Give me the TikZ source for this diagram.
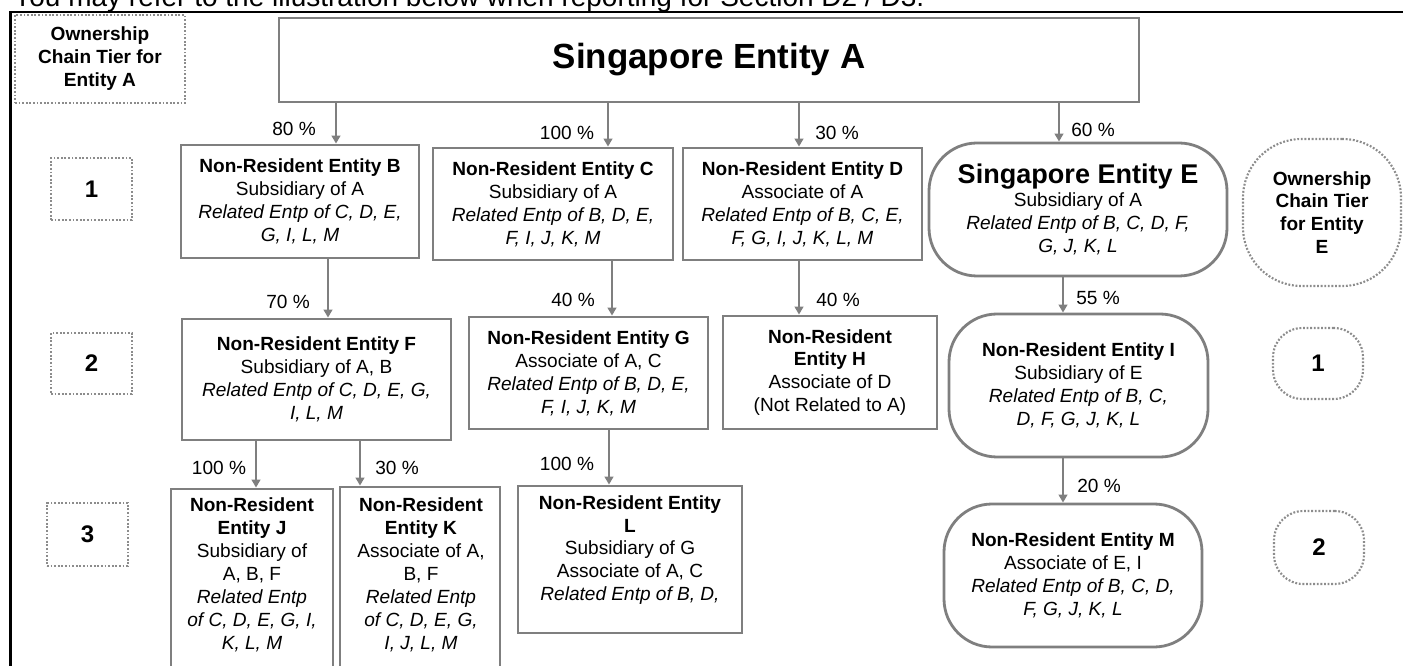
\documentclass[tikz,border=0pt]{standalone}
\usepackage{fontspec}
\setmainfont{Liberation Sans}
\usetikzlibrary{arrows.meta}
\definecolor{bgray}{RGB}{127,127,127}
\definecolor{dgray}{RGB}{140,140,140}
\newcommand\fs{\fontsize{14.3}{17.2}\selectfont}
\begin{document}
\begin{tikzpicture}[x=0.75pt,y=-0.75pt,
  sz/.style 2 args={minimum width=#1*0.75pt,minimum height=#2*0.75pt},
  box/.style={draw=bgray,line width=2.1pt,align=center,inner sep=0pt,font=\fs},
  rbox/.style={box,rounded corners=36pt},
  tier/.style={draw=dgray,line width=1.6pt,dash pattern=on 1.4pt off 1.3pt,align=center,inner sep=0pt,font=\fs\bfseries},
  num/.style={tier,font=\fontsize{18}{20}\selectfont\bfseries},
  arr/.style={draw=bgray,line width=1.5pt,-{Triangle[width=6.5pt,length=6pt]}},
  pct/.style={font=\fs,inner sep=0pt},
  txt/.style={align=center,inner sep=0pt,font=\fs},
]
\useasboundingbox (0,0) rectangle (1403,666);
\clip (0,0) rectangle (1403,666);

% heading (cut off at top) and frame
\node[anchor=base west,inner sep=0pt,font=\fontsize{21}{25}\selectfont] (note) at (13,6.5)
  {You may refer to the illustration below when reporting for Section D2 / D3.};
\coordinate (frTL) at (10.5,12);
\coordinate (frTR) at (1410,12);
\coordinate (frBL) at (10.5,680);
\draw[line width=2.2pt,black] (frTR) -- (frTL) -- (frBL);

% tier labels
\node[tier,sz={170}{88}] (TA) at (100,59) {Ownership\\Chain Tier for\\Entity A};
\node[num,sz={81}{62}] (T1) at (91.5,189) {1};
\node[num,sz={81}{61}] (T2) at (91.5,363.5) {2};
\node[num,sz={81}{63}] (T3) at (87.5,534.5) {3};
\node[tier,sz={158}{147},rounded corners=44pt] (TE) at (1322,212.5) {Ownership\\Chain Tier\\for Entity\\E};
\node[num,sz={90}{71},rounded corners=22pt] (TE1) at (1318,363.5) {1};
\node[num,sz={90}{73},rounded corners=22pt] (TE2) at (1319,547.5) {2};

% entities
\node[box,sz={860}{84},font=\fontsize{26.2}{30}\selectfont\bfseries] (A) at (709,60) {Singapore Entity A};
\node[box,sz={238}{113}] (B) at (300,201.5) {\textbf{Non-Resident Entity B}\\Subsidiary of A\\\textit{Related Entp of C, D, E,}\\\textit{G, I, L, M}};
\node[box,sz={240}{112}] (C) at (553,204) {\textbf{Non-Resident Entity C}\\Subsidiary of A\\\textit{Related Entp of B, D, E,}\\\textit{F, I, J, K, M}};
\node[box,sz={239}{112}] (D) at (802.5,204) {\textbf{Non-Resident Entity D}\\Associate of A\\\textit{Related Entp of B, C, E,}\\\textit{F, G, I, J, K, L, M}};
\node[rbox,sz={298}{133}] (E) at (1078,209.5) {{\fontsize{20.3}{24}\selectfont\bfseries Singapore Entity E}\\Subsidiary of A\\\textit{Related Entp of B, C, D, F,}\\\textit{G, J, K, L}};
\node[box,sz={269}{121}] (F) at (316.5,379.5) {\textbf{Non-Resident Entity F}\\Subsidiary of A, B\\\textit{Related Entp of C, D, E, G,}\\\textit{I, L, M}};
\node[box,sz={239}{112}] (G) at (588.5,373) {\textbf{Non-Resident Entity G}\\Associate of A, C\\\textit{Related Entp of B, D, E,}\\\textit{F, I, J, K, M}};
\node[box,sz={214}{113}] (H) at (830,372.5) {\textbf{Non-Resident}\\\textbf{Entity H}\\Associate of D\\(Not Related to A)};
\node[rbox,sz={259}{143}] (I) at (1078.5,385.5) {\textbf{Non-Resident Entity I}\\Subsidiary of E\\\textit{Related Entp of B, C,}\\\textit{D, F, G, J, K, L}};
\node[box,sz={162}{211}] (J) at (252,594.5) {};
\node[txt] (Jt) at (252,575) {\textbf{Non-Resident}\\\textbf{Entity J}\\Subsidiary of\\A, B, F\\\textit{Related Entp}\\\textit{of C, D, E, G, I,}\\\textit{K, L, M}};
\node[box,sz={160}{213}] (K) at (420,593.5) {};
\node[txt] (Kt) at (421,575) {\textbf{Non-Resident}\\\textbf{Entity K}\\Associate of A,\\B, F\\\textit{Related Entp}\\\textit{of C, D, E, G,}\\\textit{I, J, L, M}};
\node[box,sz={224}{147}] (L) at (630,559.5) {\textbf{Non-Resident Entity}\\\textbf{L}\\Subsidiary of G\\Associate of A, C\\\textit{Related Entp of B, D,}\\~};
\node[rbox,sz={258}{143}] (M) at (1073,575.5) {\textbf{Non-Resident Entity M}\\Associate of E, I\\\textit{Related Entp of B, C, D,}\\\textit{F, G, J, K, L}};

% arrow x positions
\coordinate (xB) at (336,0);
\coordinate (xC) at (608,0);
\coordinate (xD) at (799,0);
\coordinate (xE) at (1059,0);
\coordinate (xF) at (328,0);
\coordinate (xG) at (612,0);
\coordinate (xH) at (799,0);
\coordinate (xI) at (1063,0);
\coordinate (xJ) at (256,0);
\coordinate (xK) at (360,0);
\coordinate (xL) at (609,0);
\coordinate (xM) at (1063,0);

\draw[arr] (A.south -| xB) -- (B.north -| xB);
\draw[arr] (A.south -| xC) -- (C.north -| xC);
\draw[arr] (A.south -| xD) -- (D.north -| xD);
\draw[arr] (A.south -| xE) -- (E.north -| xE);
\draw[arr] (B.south -| xF) -- (F.north -| xF);
\draw[arr] (C.south -| xG) -- (G.north -| xG);
\draw[arr] (D.south -| xH) -- (H.north -| xH);
\draw[arr] (E.south -| xI) -- (I.north -| xI);
\draw[arr] (F.south -| xJ) -- (J.north -| xJ);
\draw[arr] (F.south -| xK) -- (K.north -| xK);
\draw[arr] (G.south -| xL) -- (L.north -| xL);
\draw[arr] (I.south -| xM) -- (M.north -| xM);

% percentages
\node[pct] (pB) at (294,129) {80 \%};
\node[pct] (pC) at (567,133) {100 \%};
\node[pct] (pD) at (837,133) {30 \%};
\node[pct] (pE) at (1093,130) {60 \%};
\node[pct] (pF) at (288,302) {70 \%};
\node[pct] (pG) at (573,300) {40 \%};
\node[pct] (pH) at (838,300) {40 \%};
\node[pct] (pI) at (1098,298) {55 \%};
\node[pct] (pJ) at (219,468) {100 \%};
\node[pct] (pK) at (397,468) {30 \%};
\node[pct] (pL) at (567,464) {100 \%};
\node[pct] (pM) at (1099,486) {20 \%};
\end{tikzpicture}
\end{document}
